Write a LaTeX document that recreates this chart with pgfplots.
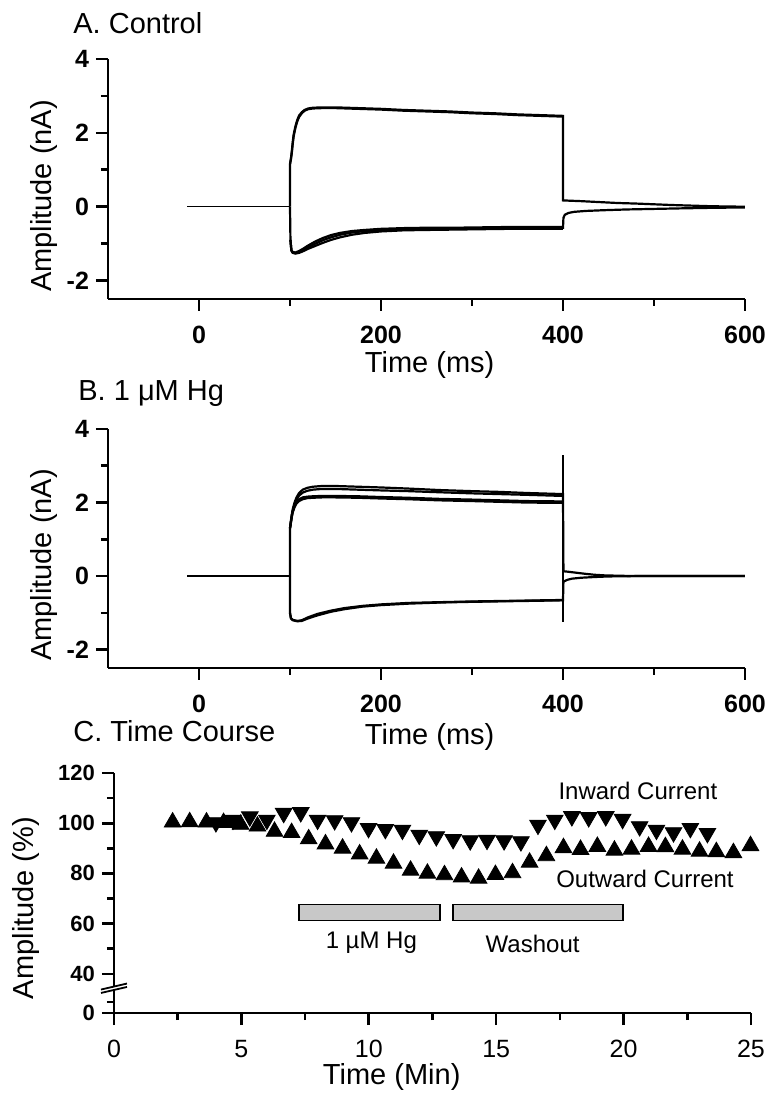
\documentclass[border=0pt]{standalone}
\usepackage{pgfplots}
\pgfplotsset{compat=1.18}
\usepackage{fontspec}
\setmainfont{Liberation Sans}
\definecolor{bargray}{RGB}{200,200,200}

\newcommand{\lbl}{\fontsize{14.5}{17}\selectfont}
\newcommand{\tlb}{\fontsize{12.5}{14}\selectfont\bfseries}

\pgfplotsset{
  panel/.style={
    scale only axis, anchor=south west, width=318.5pt, height=120pt,
    axis x line=bottom, axis y line=left,
    axis line style={-, line width=1.3pt},
    tick align=outside, major tick length=6pt, minor tick length=3.5pt,
    every tick/.style={black, line width=1.3pt},
    clip=false,
    label style={font=\lbl},
    xlabel style={anchor=center},
    ylabel style={anchor=center},
  },
  trace/.style={black, line width=1.1pt, no markers},
  thintrace/.style={black, line width=0.7pt, no markers},
  ephys/.style={panel,
    xmin=-100, xmax=600, ymin=-2.5, ymax=4,
    xtick={0,200,400,600}, minor xtick={100,300,500},
    xticklabels={0,200,400,600},
    ytick={-2,0,2,4}, minor ytick={-1,1,3},
    yticklabels={-2,0,2,4},
    xticklabel style={font=\tlb, yshift=-4pt},
    yticklabel style={font=\tlb},
    xlabel={Time (ms)}, ylabel={Amplitude (nA)},
  },
}

\begin{document}
\begin{tikzpicture}
\useasboundingbox (0,0) rectangle (382.5pt,546.5pt);

% panel titles
\node[anchor=base west, font=\lbl, inner sep=0pt] at (36.5pt,529.5pt) {A. Control};
\node[anchor=base west, font=\lbl, inner sep=0pt] at (39pt,346pt) {B. 1 μM Hg};
\node[anchor=base west, font=\lbl, inner sep=0pt] at (36.5pt,175.5pt) {C. Time Course};

% ---------------- A. Control
\begin{axis}[ephys, at={(54pt,397pt)},
  xlabel style={at={(axis description cs:0.505,-0.275)}},
  ylabel style={at={(axis description cs:-0.1005,0.429)}}]
\addplot[thintrace] coordinates {(-13,0) (100,0)};
% outward
\addplot[trace] coordinates {(100,0) (100,1.15) (101,1.3) (102,1.5) (103,1.75) (104,1.95) (106,2.18) (108,2.35) (110,2.47) (113,2.56) (116,2.62) (120,2.66) (125,2.68) (135,2.69) (150,2.69) (175,2.67) (200,2.65) (225,2.62) (250,2.6) (275,2.58) (300,2.55) (325,2.53) (350,2.5) (375,2.48) (400,2.46) (400,0.17) (405,0.165) (420,0.15) (440,0.125) (460,0.1) (480,0.085) (500,0.065) (520,0.045) (540,0.03) (560,0.015) (580,0.005) (600,0)};
\addplot[trace] coordinates {(100,1.15) (101,1.28) (102,1.46) (103,1.7) (104,1.9) (106,2.14) (108,2.31) (110,2.43) (113,2.53) (116,2.6) (120,2.64) (125,2.66) (135,2.67) (150,2.67) (175,2.65) (200,2.63) (225,2.6) (250,2.58) (275,2.56) (300,2.53) (325,2.51) (350,2.48) (375,2.46) (400,2.44)};
% inward
\addplot[trace] coordinates {(100,0) (100.5,-0.9) (101.5,-1.18) (103,-1.24) (106,-1.26) (110,-1.23) (115,-1.17) (120,-1.1) (128,-1.0) (136,-0.91) (145,-0.83) (155,-0.76) (168,-0.7) (182,-0.66) (200,-0.63) (225,-0.61) (250,-0.6) (280,-0.6) (310,-0.59) (340,-0.58) (370,-0.57) (400,-0.57) (400.5,-0.3) (402,-0.22) (406,-0.17) (412,-0.14) (425,-0.115) (445,-0.095) (470,-0.075) (500,-0.06) (530,-0.045) (565,-0.03) (600,-0.02)};
\addplot[trace] coordinates {(100.5,-0.9) (101.5,-1.17) (103,-1.23) (106,-1.24) (110,-1.2) (115,-1.13) (120,-1.05) (128,-0.94) (136,-0.85) (145,-0.77) (155,-0.71) (168,-0.66) (182,-0.63) (200,-0.6) (225,-0.58) (250,-0.57) (280,-0.57) (310,-0.56) (340,-0.55) (370,-0.55) (400,-0.55)};
\addplot[trace] coordinates {(100.5,-0.9) (101.5,-1.19) (103,-1.25) (106,-1.27) (110,-1.25) (115,-1.2) (120,-1.14) (128,-1.06) (136,-0.98) (145,-0.9) (155,-0.83) (168,-0.76) (182,-0.71) (200,-0.67) (225,-0.64) (250,-0.63) (280,-0.62) (310,-0.61) (340,-0.6) (370,-0.6) (400,-0.6)};
\end{axis}

% ---------------- B. 1 uM Hg
\begin{axis}[ephys, at={(54pt,212.5pt)}, height=119.5pt,
  xlabel style={at={(axis description cs:0.505,-0.289)}},
  ylabel style={at={(axis description cs:-0.1005,0.431)}}]
\addplot[thintrace] coordinates {(-13,0) (100,0)};
% outward, upper pair
\addplot[trace] coordinates {(100,0) (100,1.3) (101,1.5) (102,1.68) (103,1.82) (105,2.0) (107,2.13) (110,2.26) (114,2.35) (119,2.4) (125,2.43) (135,2.45) (150,2.45) (175,2.43) (200,2.41) (230,2.38) (264,2.34) (300,2.31) (330,2.29) (360,2.26) (400,2.23) (400.5,0.13) (405,0.12) (415,0.09) (425,0.06) (435,0.035) (445,0.02) (460,0.01) (480,0.0) (600,0)};
\addplot[trace] coordinates {(100,1.3) (101,1.46) (102,1.63) (103,1.77) (105,1.94) (107,2.07) (110,2.19) (114,2.27) (119,2.32) (125,2.35) (135,2.37) (150,2.37) (175,2.35) (200,2.33) (230,2.31) (264,2.28) (300,2.25) (330,2.23) (360,2.21) (400,2.18)};
% outward, lower pair
\addplot[trace] coordinates {(100,1.3) (101,1.48) (102,1.64) (103,1.77) (105,1.92) (107,2.02) (110,2.09) (114,2.14) (119,2.16) (125,2.17) (135,2.18) (150,2.18) (175,2.17) (200,2.15) (230,2.13) (264,2.1) (300,2.08) (330,2.06) (360,2.04) (400,2.03)};
\addplot[trace] coordinates {(100,1.3) (101,1.46) (102,1.61) (103,1.73) (105,1.87) (107,1.97) (110,2.04) (114,2.09) (119,2.12) (125,2.13) (135,2.14) (150,2.14) (175,2.13) (200,2.11) (230,2.09) (264,2.06) (300,2.04) (330,2.02) (360,2.0) (400,1.99)};
% inward
\addplot[trace] coordinates {(100,0) (100,-1.0) (101,-1.15) (103,-1.2) (108,-1.23) (113,-1.22) (120,-1.15) (130,-1.07) (145,-0.97) (160,-0.9) (180,-0.83) (200,-0.79) (230,-0.75) (264,-0.72) (300,-0.7) (350,-0.68) (400,-0.66) (400.5,-0.15) (405,-0.1) (410,-0.07) (420,-0.045) (435,-0.025) (450,-0.01) (480,0) (600,0)};
\addplot[trace] coordinates {(100,-1.0) (101,-1.14) (103,-1.19) (108,-1.22) (113,-1.2) (120,-1.12) (130,-1.03) (145,-0.94) (160,-0.87) (180,-0.81) (200,-0.77) (230,-0.73) (264,-0.71) (300,-0.69) (350,-0.67) (400,-0.65)};
% capacitive spike at the end of the step
\addplot[thintrace] coordinates {(400,3.28) (400,-1.25)};
\end{axis}

% ---------------- C. Time course
\begin{axis}[panel, at={(57pt,40pt)},
  xmin=0, xmax=25, ymin=24.4, ymax=120,
  xtick={0,5,10,15,20,25}, minor xtick={2.5,7.5,12.5,17.5,22.5},
  xticklabels={0,5,10,15,20,25},
  ytick={24.4,40,60,80,100,120}, minor ytick={28.8,50,70,90,110},
  yticklabels={0,40,60,80,100,120},
  xticklabel style={font=\fontsize{12.5}{14}\selectfont, yshift=-4pt},
  yticklabel style={font=\fontsize{11}{12}\selectfont\bfseries},
  xlabel={Time (Min)}, ylabel={Amplitude (\%)},
  xlabel style={at={(axis description cs:0.436,-0.267)}},
  ylabel style={at={(axis description cs:-0.138,0.4375)}}]
% outward current
\addplot[only marks, mark=triangle*, mark size=4.8pt, black] coordinates {
(2.30,100.4) (2.97,100.5) (3.63,100.4) (4.30,100.2) (4.97,99.5) (5.63,98.8)
(6.30,96.7) (6.97,96.2) (7.64,93.7) (8.30,91.7) (8.97,90.0) (9.64,87.7)
(10.30,86.0) (10.97,84.0) (11.64,81.2) (12.30,80.0) (12.97,79.4) (13.64,78.5)
(14.31,78.0) (14.97,79.5) (15.64,80.2) (16.31,84.4) (16.97,87.0) (17.64,90.2)
(18.31,89.5) (18.97,90.7) (19.64,89.2) (20.31,89.6) (20.98,90.7) (21.64,90.6)
(22.31,89.6) (22.98,88.8) (23.64,88.6) (24.31,88.2) (24.98,91.0)};
% inward current
\addplot[only marks, mark=triangle*, mark size=4.8pt, mark options={rotate=180}, black] coordinates {
(4.00,100.3) (4.67,101.3) (5.33,102.6) (6.00,101.3) (6.66,104.0) (7.33,104.3)
(7.99,101.3) (8.66,101.1) (9.32,100.3) (9.99,98.0) (10.65,97.6) (11.32,97.3)
(11.98,95.3) (12.65,94.7) (13.31,93.6) (13.98,93.1) (14.64,93.3) (15.31,93.1)
(15.97,92.7) (16.64,99.3) (17.30,101.3) (17.97,102.7) (18.63,102.3) (19.30,102.7)
(19.96,101.6) (20.63,98.7) (21.29,97.3) (21.96,96.3) (22.62,98.0) (23.29,96.0)};
% application bars
\draw[fill=bargray, line width=0.8pt] (axis cs:7.27,61.3) rectangle (axis cs:12.79,67.7);
\draw[fill=bargray, line width=0.8pt] (axis cs:13.3,61.3) rectangle (axis cs:19.98,67.7);
\node[font=\fontsize{12}{14}\selectfont] at (axis cs:10.1,52.4) {1 µM Hg};
\node[font=\fontsize{12}{14}\selectfont] at (axis cs:16.43,51.9) {Washout};
\node[font=\fontsize{12}{14}\selectfont] at (axis cs:20.56,112.9) {Inward Current};
\node[font=\fontsize{12}{14}\selectfont] at (axis cs:20.84,77.65) {Outward Current};
% axis break
\fill[white] ([xshift=-6.5pt,yshift=-2.4pt]axis cs:0,34.3) -- ([xshift=6.5pt,yshift=0.6pt]axis cs:0,34.3)
  -- ([xshift=6.5pt,yshift=2.3pt]axis cs:0,34.3) -- ([xshift=-6.5pt,yshift=-0.7pt]axis cs:0,34.3) -- cycle;
\draw[line width=0.9pt] ([xshift=-6.5pt,yshift=-2.4pt]axis cs:0,34.3) -- ([xshift=6.5pt,yshift=0.6pt]axis cs:0,34.3);
\draw[line width=0.9pt] ([xshift=-6.5pt,yshift=-0.7pt]axis cs:0,34.3) -- ([xshift=6.5pt,yshift=2.3pt]axis cs:0,34.3);
\end{axis}
\end{tikzpicture}
\end{document}
